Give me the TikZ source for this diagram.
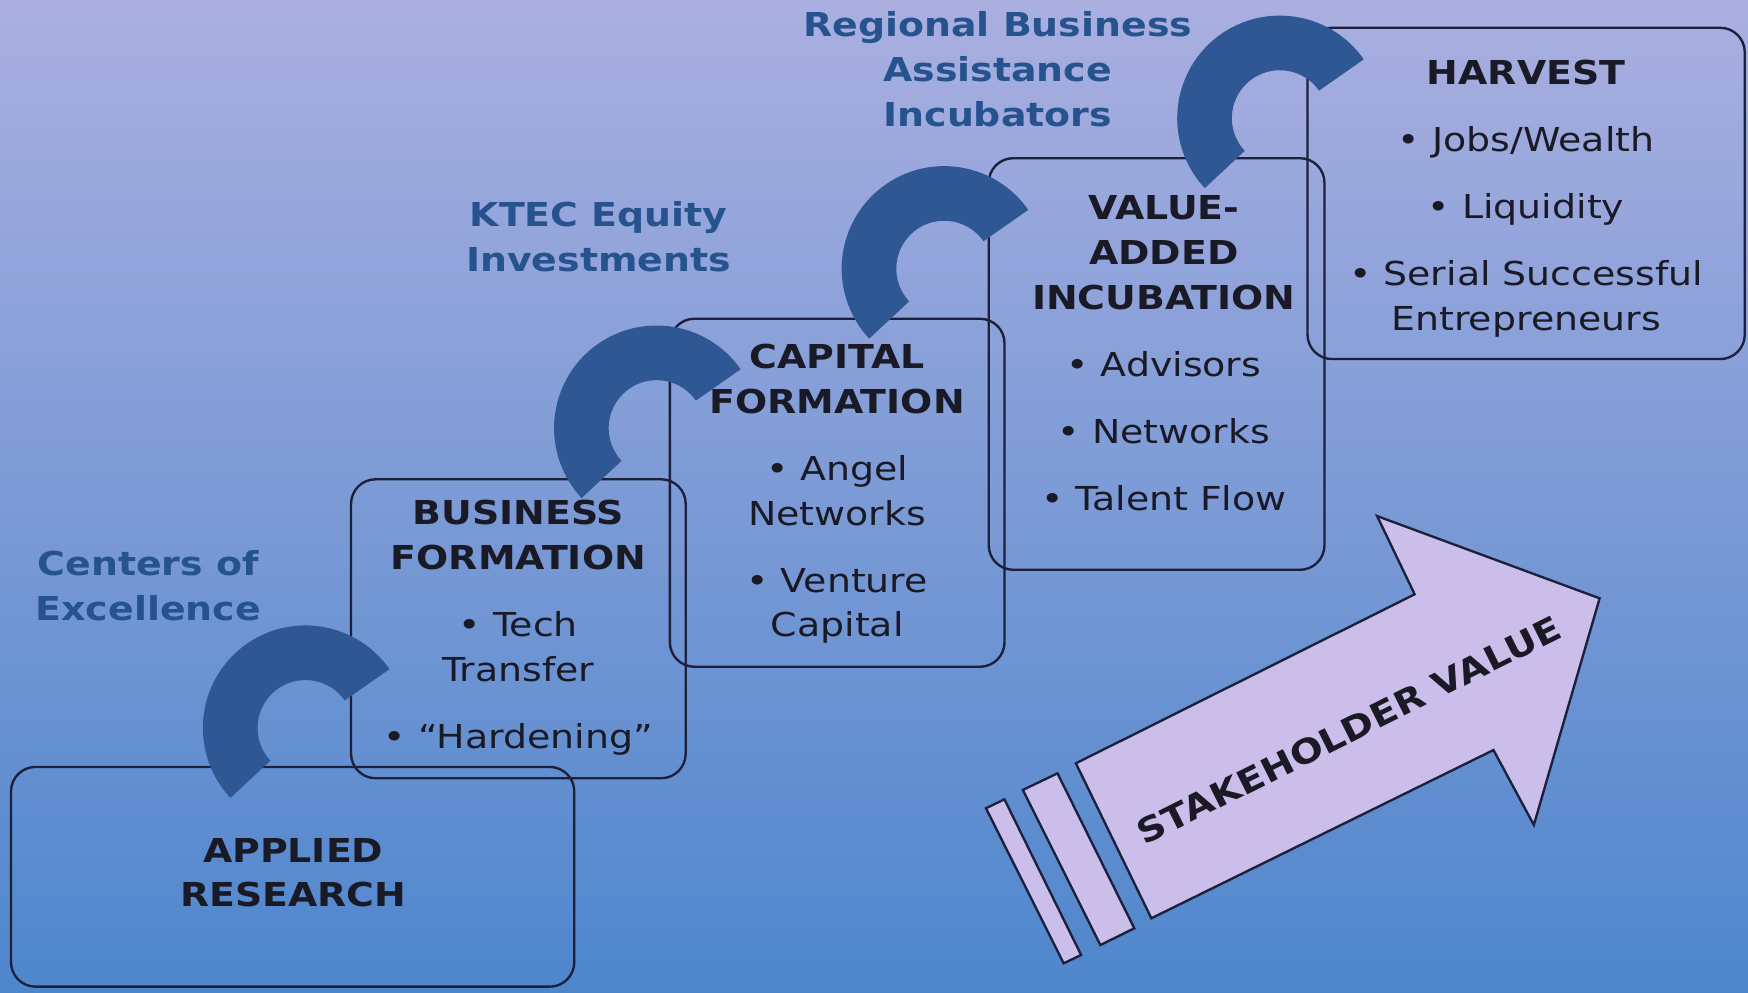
\documentclass[tikz,border=0pt]{standalone}
\usepackage{fontspec}
\setmainfont{DejaVu Sans}[FakeStretch=1.15]
\usepackage{tikz}
\definecolor{bgtop}{RGB}{170,175,224}
\definecolor{bgmid}{RGB}{138,156,214}
\definecolor{bgbot}{RGB}{78,134,204}
\definecolor{hookblue}{RGB}{46,87,148}
\definecolor{labelblue}{RGB}{38,82,142}
\definecolor{boxline}{RGB}{28,32,58}
\definecolor{inktext}{RGB}{26,26,38}
\definecolor{arrowfill}{RGB}{204,190,234}
\pgfmathsetmacro{\rOut}{92}
\pgfmathsetmacro{\rIn}{43}
\pgfmathsetmacro{\aBeg}{35}
\pgfmathsetmacro{\aEnd}{223}

\begin{document}
\begin{tikzpicture}[x=0.01cm, y=0.01cm,
		stagebox/.style={draw=boxline, line width=0.6pt, rounded corners=0.22cm, inner sep=0pt, outer sep=0pt},
		stagetext/.style={text=inktext, align=center, inner sep=0pt, anchor=north, font={\fontsize{8.4}{11.4}\selectfont}},
		sidelabel/.style={text=labelblue, align=center, inner sep=0pt, anchor=north, font={\bfseries\fontsize{8.4}{11.4}\selectfont}},
		hook/.style={fill=hookblue},
		arrowbody/.style={fill=arrowfill, draw=boxline, line width=0.6pt, line join=miter}]
	\shade[top color=bgtop, middle color=bgmid, bottom color=bgbot] (0,0) rectangle (1568,-890);
	\node[stagebox, minimum width=5.05cm, minimum height=1.97cm] (applied) at (262.5,-786.5) {};
	\node[stagebox, minimum width=3cm, minimum height=2.68cm] (business) at (465,-564) {};
	\node[stagebox, minimum width=3cm, minimum height=3.12cm] (capital) at (751,-442) {};
	\node[stagebox, minimum width=3.01cm, minimum height=3.69cm] (incubation) at (1037.5,-326.5) {};
	\node[stagebox, minimum width=3.92cm, minimum height=2.97cm] (harvest) at (1369,-173.5) {};
	\foreach \cx/\cy in {274/-653, 589/-384, 847/-241, 1148/-106}
		\fill[hook] (\cx,\cy) ++(\aBeg:\rOut) arc[start angle=\aBeg, end angle=\aEnd, radius=\rOut] -- ++(\aEnd-180:\rOut-\rIn) arc[start angle=\aEnd, end angle=\aBeg, radius=\rIn] -- cycle;
	\node[sidelabel] (centers) at (133,-493) {Centers of\\Excellence};
	\node[sidelabel] (ktec) at (537,-180) {KTEC Equity\\Investments};
	\node[sidelabel] (regional) at (895,-10) {Regional Business\\Assistance\\Incubators};
	\node[stagetext] (appliedtext) at (263,-751) {\textbf{APPLIED}\\\textbf{RESEARCH}};
	\node[stagetext] (businesstext) at (465,-448) {\textbf{BUSINESS}\\\textbf{FORMATION}\\[5.7pt]• Tech\\Transfer\\[5.7pt]• “Hardening”};
	\node[stagetext] (capitaltext) at (751,-308) {\textbf{CAPITAL}\\\textbf{FORMATION}\\[5.7pt]• Angel\\Networks\\[5.7pt]• Venture\\Capital};
	\node[stagetext] (incubationtext) at (1044,-175) {\textbf{VALUE-}\\\textbf{ADDED}\\\textbf{INCUBATION}\\[5.7pt]• Advisors\\[5.7pt]• Networks\\[5.7pt]• Talent Flow};
	\node[stagetext] (harvesttext) at (1369,-53) {\textbf{HARVEST}\\[5.7pt]• Jobs/Wealth\\[5.7pt]• Liquidity\\[5.7pt]• Serial Successful\\Entrepreneurs};
	\filldraw[arrowbody] (1032.8,-823.7) -- (965.1,-684.7) -- (1269,-533.1) -- (1235.3,-462.9) -- (1434.9,-536.7) -- (1375.9,-740) -- (1339.7,-672.8) -- cycle;
	\filldraw[arrowbody] (917.5,-708.6) -- (948.6,-693.7) -- (1017.5,-832.7) -- (987.1,-847.7) -- cycle;
	\filldraw[arrowbody] (884.5,-725) -- (901,-717) -- (969.8,-856.6) -- (954.1,-864.1) -- cycle;
	\node[stagetext, anchor=center, rotate=26.5, font={\bfseries\fontsize{8.6}{11.4}\selectfont}] (stake) at (1210,-655) {STAKEHOLDER VALUE};
\end{tikzpicture}
\end{document}
